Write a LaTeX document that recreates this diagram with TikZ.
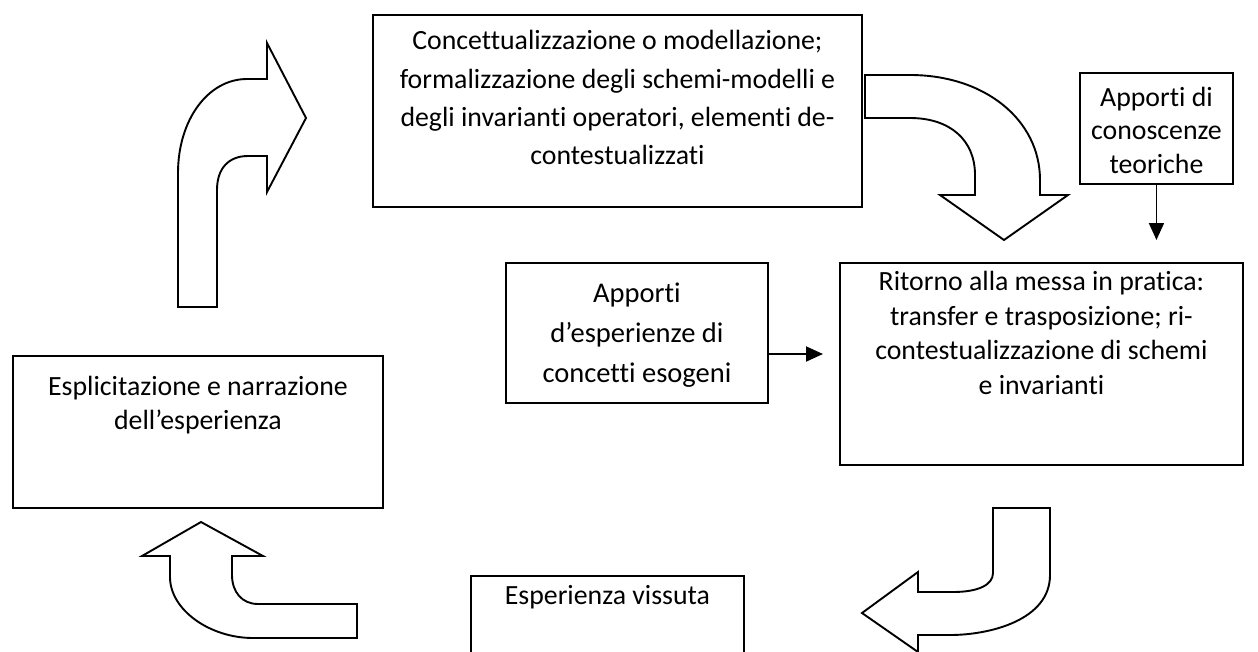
\documentclass[tikz,border=0pt]{standalone}
\usepackage{fontspec}
\setmainfont{Carlito}[Ligatures=NoCommon]
\usetikzlibrary{arrows.meta}

% box content: width, height, first-baseline offset, line spacing, text
\newcommand{\boxtext}[6][27.8pt]{%
  \parbox[t][#3][t]{#2}{\centering\fontsize{#1}{#5}\selectfont
    \vspace*{\dimexpr#4-24pt\relax}\rule{0pt}{24pt}#6\par}}

\begin{document}
\begin{tikzpicture}[x=1pt,y=-1pt,
  box/.style={draw, line width=1.9pt, inner sep=0pt, anchor=north west},
  conn/.style={line width=1.9pt, -{Triangle[length=17pt,width=15pt]}},
  bigarrow/.style={draw, line width=1.9pt, fill=white, line join=miter}]
\useasboundingbox (0,0) rectangle (1258,651);

% text boxes
\node[box] (conc) at (372,14)
  {\boxtext{489pt}{192pt}{35pt}{38.3pt}{Concettualizzazione o modellazione;\\
   formalizzazione degli schemi-modelli e\\
   degli invarianti operatori, elementi de-\\
   contestualizzati}};
\node[box] (teo) at (1079,72)
  {\boxtext{153pt}{111pt}{33.5pt}{33.5pt}{Apporti di\\conoscenze\\teoriche}};
\node[box] (eso) at (505,262)
  {\boxtext[28.5pt]{262pt}{140pt}{40pt}{40pt}{Apporti\\d’esperienze di\\concetti esogeni}};
\node[box] (rit) at (839,262)
  {\boxtext{403pt}{202pt}{27.5pt}{34.7pt}{Ritorno alla messa in pratica:\\
   transfer e trasposizione; ri-\\
   contestualizzazione di schemi\\
   e invarianti}};
\node[box] (espl) at (12,355)
  {\boxtext{370pt}{152pt}{39.5pt}{34pt}{Esplicitazione e narrazione\\dell’esperienza}};
\node[box] (viss) at (470,575)
  {\boxtext{273pt}{100pt}{28.5pt}{34pt}{Esperienza vissuta}};

% straight connectors
\draw[conn, shorten >=22pt] (teo.south) -- (teo.south |- rit.north);
\coordinate (esoR) at (eso.east |- 0,354);
\draw[conn, shorten >=16pt] (esoR) -- (esoR -| rit.west);

% curved block arrows of the cycle
% up, then right
\path[bigarrow] (178,307) -- (178,173) .. controls (178,120) and (208,79) .. (247,79)
  -- (267,79) -- (267,43) -- (306,118) -- (267,192) -- (267,156) -- (248,156)
  .. controls (229,156) and (217,168) .. (217,190) -- (217,307) -- cycle;
% right, then down
\path[bigarrow] (865,75) -- (910,75) .. controls (985,75) and (1040,120) .. (1040,180)
  -- (1040,195) -- (1068,195) -- (1004,240) -- (940,195) -- (975,195) -- (975,175)
  .. controls (975,140) and (950,118) .. (910,118) -- (865,118) -- cycle;
% down, then left
\path[bigarrow] (1050,508) -- (1050,575) .. controls (1050,620) and (990,635) .. (950,635)
  -- (918,635) -- (918,652) -- (862,613) -- (918,572) -- (918,592) -- (953,592)
  .. controls (978,592) and (993,585) .. (993,573) -- (993,508) -- cycle;
% left, then up
\path[bigarrow] (357,638) -- (253,638) .. controls (210,638) and (170,610) .. (170,577)
  -- (170,556) -- (142,556) -- (201,522) -- (263,556) -- (232,556) -- (232,575)
  .. controls (232,592) and (242,604) .. (258,604) -- (357,604) -- cycle;
\end{tikzpicture}
\end{document}
